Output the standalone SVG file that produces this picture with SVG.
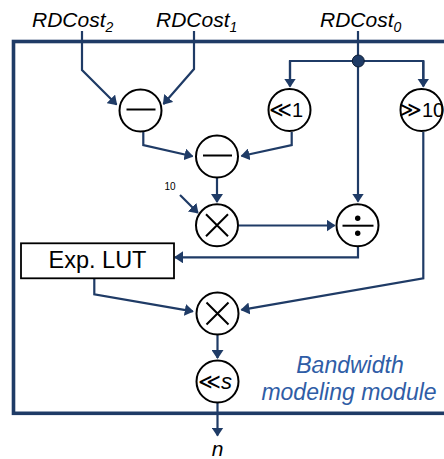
<svg xmlns="http://www.w3.org/2000/svg" width="444" height="459" viewBox="0 0 444 459">
  <defs>
    <style>
      .wire { fill: none; stroke: #1F3B66; stroke-width: 2.2; stroke-linejoin: miter; }
      .op { fill: #FFFFFF; stroke: #000000; stroke-width: 2; }
      .sym { stroke: #000000; stroke-width: 2; fill: none; }
      .lbl { font-family: "Liberation Sans", "DejaVu Sans", Arial, sans-serif; fill: #000000; }
      .it { font-style: italic; }
      .shift { font-family: "Liberation Sans", "DejaVu Sans", sans-serif; font-size: 20px; fill: #000000; text-anchor: middle; }
      .chev { font-size: 22px; }
      .title { font-family: "Liberation Sans", Arial, sans-serif; font-style: italic; font-size: 23px; fill: #2F5DA6; text-anchor: middle; }
    </style>
    <marker id="arrow" viewBox="0 0 9 12" refX="8" refY="6" markerWidth="9" markerHeight="12" markerUnits="userSpaceOnUse" orient="auto">
      <path d="M0,0 L9,6 L0,12 Z" fill="#1F3B66"/>
    </marker>
  </defs>

  <rect width="444" height="459" fill="#FFFFFF"/>

  <!-- module boundary -->
  <rect id="module" x="13.5" y="41.5" width="450" height="371.8" fill="none" stroke="#1F3B66" stroke-width="3.6"/>

  <!-- inputs -->
  <g id="inputs" class="lbl it" font-size="21">
    <text x="32" y="27">RDCost<tspan font-size="14" dy="5">2</tspan></text>
    <text x="156" y="27">RDCost<tspan font-size="14" dy="5">1</tspan></text>
    <text x="320" y="27">RDCost<tspan font-size="14" dy="5">0</tspan></text>
  </g>

  <!-- connectors -->
  <g id="connectors" class="wire">
    <path d="M82,31 V70 L116.5,104.5" marker-end="url(#arrow)"/>
    <path d="M194,31 V69 L163.5,104" marker-end="url(#arrow)"/>
    <path d="M143.3,132 V145 L192.5,156.3" marker-end="url(#arrow)"/>
    <path d="M291.7,132 V145 L241.5,156" marker-end="url(#arrow)"/>
    <path d="M358,31 V201.5" marker-end="url(#arrow)"/>
    <path d="M290,86 V61 H423.3 V86"/>
    <path d="M290,61 V86.5" marker-end="url(#arrow)"/>
    <path d="M423.3,61 V86.5" marker-end="url(#arrow)"/>
    <path d="M423.3,132 V278.3 L241.5,309.8" marker-end="url(#arrow)"/>
    <path d="M217,178 V202" marker-end="url(#arrow)"/>
    <path d="M180,195 L197.8,212.8" marker-end="url(#arrow)"/>
    <path d="M239,225.5 H334.5" marker-end="url(#arrow)"/>
    <path d="M358,247 V257.3 H175" marker-end="url(#arrow)"/>
    <path d="M94.3,278.3 V294.3 L192.8,311.3" marker-end="url(#arrow)"/>
    <path d="M217.5,335 V358" marker-end="url(#arrow)"/>
    <path d="M217.5,403 V435.5" marker-end="url(#arrow)"/>
  </g>
  <circle id="junction" cx="358.3" cy="61" r="6" fill="#1F3B66" stroke="#0E1E36" stroke-width="1"/>

  <!-- subtract RDCost2 - RDCost1 -->
  <g id="sub1">
    <circle class="op" cx="140.5" cy="110.5" r="21"/>
    <line class="sym" x1="126.5" y1="109.5" x2="155.5" y2="109.5"/>
  </g>

  <!-- shift left by 1 -->
  <g id="shl1">
    <circle class="op" cx="289.5" cy="110" r="21"/>
    <text class="shift" x="286" y="117.3"><tspan class="chev">≪</tspan>1</text>
  </g>

  <!-- shift right by 10 -->
  <g id="shr10">
    <circle class="op" cx="421.5" cy="110" r="21"/>
    <text class="shift" x="421.5" y="117.3"><tspan class="chev">≫</tspan>10</text>
  </g>

  <!-- second subtract -->
  <g id="sub2">
    <circle class="op" cx="217" cy="156.5" r="21"/>
    <line class="sym" x1="203" y1="155.5" x2="232" y2="155.5"/>
  </g>

  <!-- multiply by 10 -->
  <g id="mul1">
    <circle class="op" cx="217" cy="225.3" r="21"/>
    <path class="sym" d="M206,214.3 L228,236.3 M228,214.3 L206,236.3"/>
  </g>
  <text id="const10" class="lbl" x="170" y="189.5" font-size="10" text-anchor="middle">10</text>

  <!-- divide -->
  <g id="div">
    <circle class="op" cx="357.5" cy="225.3" r="21"/>
    <line class="sym" x1="342.5" y1="225.7" x2="373.5" y2="225.7"/>
    <circle cx="357.7" cy="218.3" r="2.7" fill="#000000"/>
    <circle cx="357.7" cy="233.3" r="2.7" fill="#000000"/>
  </g>

  <!-- exponential lookup table -->
  <g id="explut">
    <rect x="21" y="243.3" width="153" height="35" fill="#FFFFFF" stroke="#000000" stroke-width="1.8"/>
    <text class="lbl" x="97.5" y="268.3" font-size="23.5" text-anchor="middle">Exp. LUT</text>
  </g>

  <!-- final multiply -->
  <g id="mul2">
    <circle class="op" cx="217.5" cy="313.5" r="21"/>
    <path class="sym" d="M206.5,302.5 L228.5,324.5 M228.5,302.5 L206.5,324.5"/>
  </g>

  <!-- shift left by s -->
  <g id="shls">
    <circle class="op" cx="217.5" cy="381.5" r="21"/>
    <text class="shift" x="215" y="388.5"><tspan class="chev">≪</tspan><tspan font-style="italic" font-size="22">s</tspan></text>
  </g>

  <!-- output -->
  <text id="out" class="lbl it" x="217.5" y="456" font-size="21" text-anchor="middle">n</text>

  <!-- module caption -->
  <g id="caption">
    <text class="title" x="350" y="372.5">Bandwidth</text>
    <text class="title" x="349" y="400">modeling module</text>
  </g>
</svg>
